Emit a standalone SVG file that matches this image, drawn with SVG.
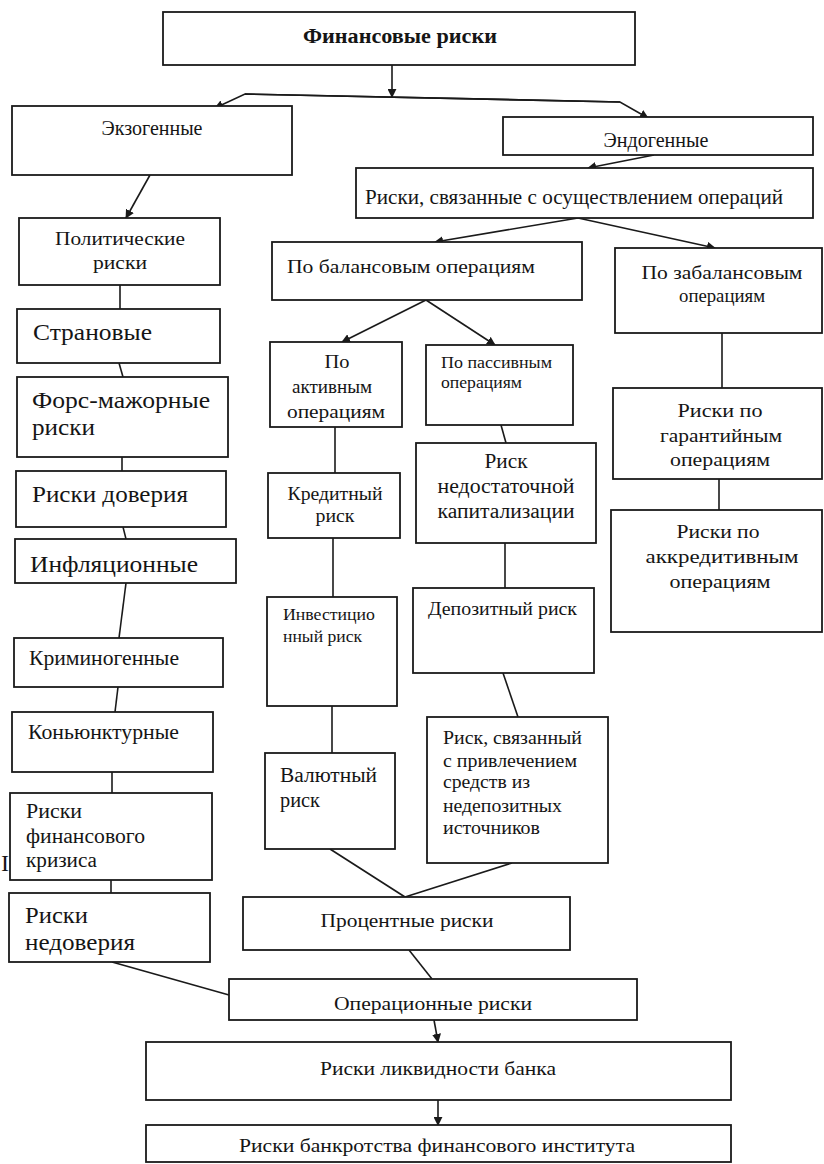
<svg xmlns="http://www.w3.org/2000/svg" width="824" height="1164" viewBox="0 0 824 1164">
<style>
.box{fill:#fff;stroke:#1a1a1a;stroke-width:1.8}
.ln{fill:none;stroke:#1a1a1a;stroke-width:1.6}
.t{font-family:'Liberation Serif','Times New Roman','DejaVu Serif',serif;fill:#151515}
.c{text-anchor:middle}
</style>
<defs>
<marker id="ah" viewBox="0 0 10 10" refX="9" refY="5" markerWidth="9" markerHeight="9" markerUnits="userSpaceOnUse" orient="auto">
<path d="M0,0 L10,5 L0,10 z" fill="#1a1a1a"/>
</marker>
</defs>
<rect width="824" height="1164" fill="#fff"/>

<g id="connectors">
<line class="ln" x1="392" y1="65" x2="392" y2="97" marker-end="url(#ah)"/>
<polyline class="ln" points="620,102 245,94 215,108" marker-end="url(#ah)"/>
<polyline class="ln" points="245,94 620,102 648,118" marker-end="url(#ah)"/>
<line class="ln" x1="150" y1="175" x2="126" y2="218" marker-end="url(#ah)"/>
<line class="ln" x1="654" y1="155" x2="588" y2="168" marker-end="url(#ah)"/>
<line class="ln" x1="578" y1="218" x2="435" y2="242" marker-end="url(#ah)"/>
<line class="ln" x1="578" y1="218" x2="715" y2="248" marker-end="url(#ah)"/>
<line class="ln" x1="426" y1="300" x2="342" y2="342" marker-end="url(#ah)"/>
<line class="ln" x1="426" y1="300" x2="495" y2="345" marker-end="url(#ah)"/>
<line class="ln" x1="120" y1="285" x2="120" y2="309"/>
<line class="ln" x1="119" y1="363" x2="123" y2="377"/>
<line class="ln" x1="122" y1="457" x2="122" y2="471"/>
<line class="ln" x1="123" y1="527" x2="126" y2="539"/>
<line class="ln" x1="126" y1="583" x2="119" y2="638"/>
<line class="ln" x1="118" y1="687" x2="115" y2="712"/>
<line class="ln" x1="112" y1="772" x2="112" y2="793"/>
<line class="ln" x1="111" y1="880" x2="111" y2="893"/>
<line class="ln" x1="112" y1="962" x2="229" y2="995"/>
<line class="ln" x1="335" y1="427" x2="335" y2="473"/>
<line class="ln" x1="333" y1="538" x2="333" y2="597"/>
<line class="ln" x1="332" y1="706" x2="332" y2="753"/>
<line class="ln" x1="330" y1="849" x2="405" y2="897"/>
<line class="ln" x1="512" y1="863" x2="405" y2="897"/>
<line class="ln" x1="501" y1="425" x2="506" y2="443"/>
<line class="ln" x1="505" y1="543" x2="505" y2="588"/>
<line class="ln" x1="503" y1="673" x2="518" y2="717"/>
<line class="ln" x1="722" y1="333" x2="722" y2="388"/>
<line class="ln" x1="719" y1="479" x2="719" y2="510"/>
<line class="ln" x1="409" y1="950" x2="432" y2="979"/>
<line class="ln" x1="434" y1="1020" x2="438" y2="1042" marker-end="url(#ah)"/>
<line class="ln" x1="438" y1="1100" x2="438" y2="1125" marker-end="url(#ah)"/>
</g>

<g class="t">
<g id="n-fin"><rect class="box" x="163" y="12" width="472" height="53"/>
<text class="c" x="400" y="43" font-size="20" font-weight="bold" textLength="194" lengthAdjust="spacingAndGlyphs">Финансовые  риски</text></g>

<g id="n-exo"><rect class="box" x="12" y="106" width="280" height="69"/>
<text class="c" x="152" y="135" font-size="20" textLength="101" lengthAdjust="spacingAndGlyphs">Экзогенные</text></g>

<g id="n-endo"><rect class="box" x="503" y="117" width="310" height="38"/>
<text class="c" x="656" y="147" font-size="20" textLength="105" lengthAdjust="spacingAndGlyphs">Эндогенные</text></g>

<g id="n-ops"><rect class="box" x="356" y="168" width="457" height="50"/>
<text class="c" x="574" y="204" font-size="21" textLength="418" lengthAdjust="spacingAndGlyphs">Риски, связанные с осуществлением операций</text></g>

<g id="n-polit"><rect class="box" x="19" y="218" width="201" height="67"/>
<text class="c" x="120" y="245" font-size="19" textLength="130" lengthAdjust="spacingAndGlyphs">Политические</text>
<text class="c" x="120" y="269" font-size="19" textLength="54" lengthAdjust="spacingAndGlyphs">риски</text></g>

<g id="n-stran"><rect class="box" x="17" y="309" width="203" height="54"/>
<text x="33" y="340" font-size="23" textLength="119" lengthAdjust="spacingAndGlyphs">Страновые</text></g>

<g id="n-fors"><rect class="box" x="17" y="377" width="211" height="80"/>
<text x="32" y="408" font-size="24" textLength="178" lengthAdjust="spacingAndGlyphs">Форс-мажорные</text>
<text x="32" y="435" font-size="24" textLength="63" lengthAdjust="spacingAndGlyphs">риски</text></g>

<g id="n-dover"><rect class="box" x="16" y="471" width="210" height="56"/>
<text x="32" y="502" font-size="24" textLength="156" lengthAdjust="spacingAndGlyphs">Риски доверия</text></g>

<g id="n-infl"><rect class="box" x="15" y="539" width="221" height="44"/>
<text x="30" y="572" font-size="24" textLength="168" lengthAdjust="spacingAndGlyphs">Инфляционные</text></g>

<g id="n-krim"><rect class="box" x="14" y="638" width="209" height="49"/>
<text x="29" y="665" font-size="20" textLength="150" lengthAdjust="spacingAndGlyphs">Криминогенные</text></g>

<g id="n-konj"><rect class="box" x="12" y="712" width="201" height="60"/>
<text x="28" y="739" font-size="20" textLength="151" lengthAdjust="spacingAndGlyphs">Коньюнктурные</text></g>

<g id="n-krizis"><rect class="box" x="10" y="793" width="202" height="87"/>
<text x="26" y="818" font-size="20" textLength="56" lengthAdjust="spacingAndGlyphs">Риски</text>
<text x="26" y="843" font-size="20" textLength="119" lengthAdjust="spacingAndGlyphs">финансового</text>
<text x="26" y="867" font-size="20" textLength="71" lengthAdjust="spacingAndGlyphs">кризиса</text></g>

<text x="1" y="871" font-size="24">I</text>

<g id="n-nedov"><rect class="box" x="9" y="893" width="201" height="69"/>
<text x="25" y="923" font-size="24" textLength="63" lengthAdjust="spacingAndGlyphs">Риски</text>
<text x="25" y="950" font-size="24" textLength="110" lengthAdjust="spacingAndGlyphs">недоверия</text></g>

<g id="n-balans"><rect class="box" x="272" y="242" width="310" height="58"/>
<text x="287" y="273" font-size="19" textLength="248" lengthAdjust="spacingAndGlyphs">По балансовым операциям</text></g>

<g id="n-zabal"><rect class="box" x="615" y="248" width="207" height="85"/>
<text class="c" x="722" y="279" font-size="19" textLength="161" lengthAdjust="spacingAndGlyphs">По забалансовым</text>
<text class="c" x="722" y="302" font-size="19" textLength="86" lengthAdjust="spacingAndGlyphs">операциям</text></g>

<g id="n-active"><rect class="box" x="270" y="342" width="132" height="85"/>
<text class="c" x="337" y="368" font-size="19" textLength="25" lengthAdjust="spacingAndGlyphs">По</text>
<text class="c" x="332" y="393" font-size="19" textLength="80" lengthAdjust="spacingAndGlyphs">активным</text>
<text class="c" x="336" y="418" font-size="19" textLength="98" lengthAdjust="spacingAndGlyphs">операциям</text></g>

<g id="n-passive"><rect class="box" x="426" y="345" width="147" height="80"/>
<text x="441" y="368" font-size="16" textLength="111" lengthAdjust="spacingAndGlyphs">По пассивным</text>
<text x="441" y="388" font-size="16" textLength="81" lengthAdjust="spacingAndGlyphs">операциям</text></g>

<g id="n-kredit"><rect class="box" x="268" y="473" width="132" height="65"/>
<text class="c" x="335" y="500" font-size="18" textLength="95" lengthAdjust="spacingAndGlyphs">Кредитный</text>
<text class="c" x="335" y="522" font-size="18" textLength="39" lengthAdjust="spacingAndGlyphs">риск</text></g>

<g id="n-kapit"><rect class="box" x="416" y="443" width="180" height="100"/>
<text class="c" x="506" y="468" font-size="20" textLength="43" lengthAdjust="spacingAndGlyphs">Риск</text>
<text class="c" x="506" y="493" font-size="20" textLength="137" lengthAdjust="spacingAndGlyphs">недостаточной</text>
<text class="c" x="506" y="518" font-size="20" textLength="137" lengthAdjust="spacingAndGlyphs">капитализации</text></g>

<g id="n-garant"><rect class="box" x="613" y="388" width="209" height="91"/>
<text class="c" x="720" y="417" font-size="19" textLength="85" lengthAdjust="spacingAndGlyphs">Риски по</text>
<text class="c" x="721" y="442" font-size="19" textLength="122" lengthAdjust="spacingAndGlyphs">гарантийным</text>
<text class="c" x="720" y="466" font-size="19" textLength="100" lengthAdjust="spacingAndGlyphs">операциям</text></g>

<g id="n-akkr"><rect class="box" x="611" y="510" width="211" height="122"/>
<text class="c" x="718" y="538" font-size="19" textLength="83" lengthAdjust="spacingAndGlyphs">Риски по</text>
<text class="c" x="722" y="563" font-size="19" textLength="153" lengthAdjust="spacingAndGlyphs">аккредитивным</text>
<text class="c" x="720" y="588" font-size="19" textLength="101" lengthAdjust="spacingAndGlyphs">операциям</text></g>

<g id="n-invest"><rect class="box" x="267" y="597" width="130" height="109"/>
<text x="283" y="620" font-size="16" textLength="92" lengthAdjust="spacingAndGlyphs">Инвестицио</text>
<text x="283" y="642" font-size="16" textLength="79" lengthAdjust="spacingAndGlyphs">нный риск</text></g>

<g id="n-deposit"><rect class="box" x="413" y="588" width="181" height="85"/>
<text x="428" y="615" font-size="18" textLength="149" lengthAdjust="spacingAndGlyphs">Депозитный риск</text></g>

<g id="n-valut"><rect class="box" x="265" y="753" width="130" height="96"/>
<text x="280" y="782" font-size="20" textLength="97" lengthAdjust="spacingAndGlyphs">Валютный</text>
<text x="280" y="807" font-size="20" textLength="40" lengthAdjust="spacingAndGlyphs">риск</text></g>

<g id="n-nedep"><rect class="box" x="427" y="717" width="181" height="146"/>
<text x="443" y="744" font-size="18" textLength="139" lengthAdjust="spacingAndGlyphs">Риск, связанный</text>
<text x="443" y="767" font-size="18" textLength="134" lengthAdjust="spacingAndGlyphs">с привлечением</text>
<text x="443" y="788" font-size="18" textLength="87" lengthAdjust="spacingAndGlyphs">средств из</text>
<text x="443" y="812" font-size="18" textLength="119" lengthAdjust="spacingAndGlyphs">недепозитных</text>
<text x="443" y="834" font-size="18" textLength="97" lengthAdjust="spacingAndGlyphs">источников</text></g>

<g id="n-proc"><rect class="box" x="243" y="897" width="327" height="53"/>
<text class="c" x="407" y="927" font-size="19" textLength="173" lengthAdjust="spacingAndGlyphs">Процентные риски</text></g>

<g id="n-operac"><rect class="box" x="229" y="979" width="408" height="41"/>
<text class="c" x="433" y="1010" font-size="19" textLength="198" lengthAdjust="spacingAndGlyphs">Операционные риски</text></g>

<g id="n-likv"><rect class="box" x="146" y="1042" width="585" height="58"/>
<text class="c" x="438" y="1075" font-size="19" textLength="236" lengthAdjust="spacingAndGlyphs">Риски ликвидности банка</text></g>

<g id="n-bankr"><rect class="box" x="146" y="1125" width="585" height="37"/>
<text class="c" x="437" y="1152" font-size="19" textLength="396" lengthAdjust="spacingAndGlyphs">Риски банкротства финансового института</text></g>
</g>
</svg>
